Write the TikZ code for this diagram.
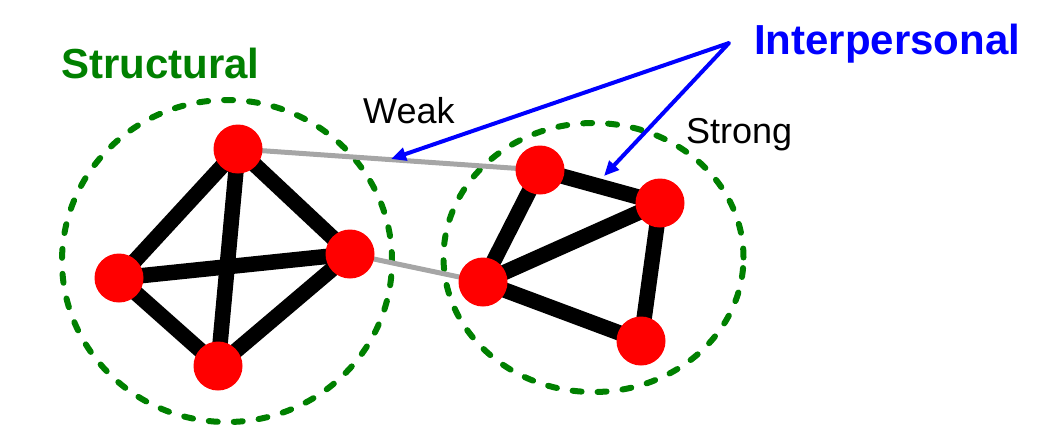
\documentclass[tikz,border=0pt]{standalone}
\usepackage{fontspec}
\setmainfont{Liberation Sans}
\usepackage{xcolor}
\usetikzlibrary{arrows.meta,backgrounds}
\definecolor{grpgreen}{HTML}{008000}
\definecolor{tiegray}{HTML}{A6A6A6}
\definecolor{ptrblue}{HTML}{0000FF}
\tikzset{
  grp/.style={draw=grpgreen, line width=6pt, line cap=round, dash pattern=on 9pt off 16pt},
  tie/.style={draw=black, line width=15.5pt},
  weak/.style={draw=tiegray, line width=5pt},
  ptr/.style={draw=ptrblue, line width=4pt, line join=round, {Triangle[length=15pt,width=13pt]}-{Triangle[length=15pt,width=13pt]}},
  person/.style={circle, fill=red, minimum size=49pt, inner sep=0pt},
  lab/.style={inner sep=0pt, anchor=base west, font=\fontsize{36}{40}\selectfont},
  head/.style={inner sep=0pt, anchor=base west, font=\fontsize{42}{46}\selectfont\bfseries},
}
\begin{document}
\begin{tikzpicture}[x=1pt, y=-1pt]
  \useasboundingbox (0,0) rectangle (1044,440);
  % left group
  \node[person] (L1) at (238,149) {};
  \node[person] (L2) at (119,278) {};
  \node[person] (L3) at (350,254) {};
  \node[person] (L4) at (218,366) {};
  % right group
  \node[person] (R1) at (540,170) {};
  \node[person] (R2) at (660,203) {};
  \node[person] (R3) at (483,282) {};
  \node[person] (R4) at (641,341) {};
  \begin{scope}[on background layer]
    \draw[grp] (227,261) ellipse [x radius=165pt, y radius=161pt];
    \draw[grp] (593.5,257.5) ellipse [x radius=150pt, y radius=134.5pt];
    \draw[weak] (L1.center) -- (R1.center);
    \draw[weak] (L3.center) -- (R3.center);
    \foreach \a/\b in {L1/L2,L1/L3,L1/L4,L2/L3,L2/L4,L3/L4,R1/R2,R1/R3,R2/R3,R2/R4,R3/R4}
      \draw[tie] (\a.center) -- (\b.center);
  \end{scope}
  % labels
  \node[head, text=grpgreen] (structural) at (61,78) {Structural};
  \node[head, text=ptrblue] (interpersonal) at (754,54) {Interpersonal};
  \node[lab] (weaklab) at (363,123) {Weak};
  \node[lab] (stronglab) at (686,143) {Strong};
  \coordinate (apex) at (729,43);
  \coordinate (weakpt) at (391,159);
  \coordinate (strongpt) at (604,176);
  \draw[ptr] (weakpt) -- (apex) -- (strongpt);
\end{tikzpicture}
\end{document}
